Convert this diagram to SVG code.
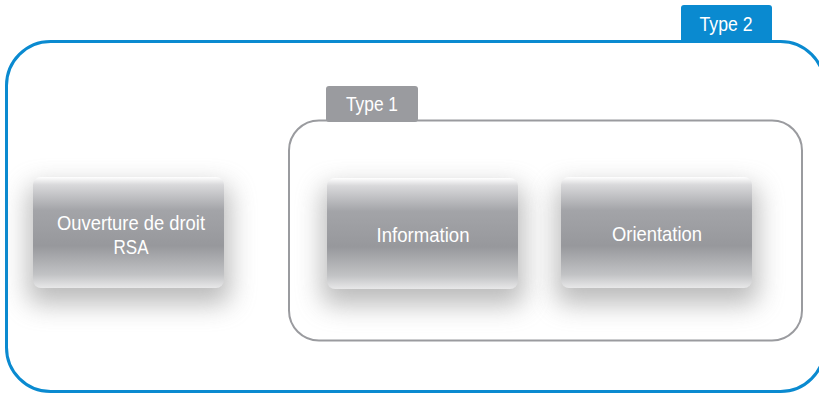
<svg xmlns="http://www.w3.org/2000/svg" width="819" height="395" viewBox="0 0 819 395">
  <defs>
    <linearGradient id="nodeFill" x1="0" y1="0" x2="0" y2="1">
      <stop offset="0" stop-color="#ffffff"/>
      <stop offset="0.07" stop-color="#d9d9db"/>
      <stop offset="0.3" stop-color="#a3a4a8"/>
      <stop offset="0.62" stop-color="#97989c"/>
      <stop offset="0.88" stop-color="#c2c3c5"/>
      <stop offset="1" stop-color="#e8e8e9"/>
    </linearGradient>
    <filter id="soft" x="-40%" y="-40%" width="180%" height="190%">
      <feGaussianBlur stdDeviation="13"/>
    </filter>
  </defs>
  <style>
    .label { font-family: "Liberation Sans", Arial, sans-serif; fill: #ffffff; text-anchor: middle; }
    .node-text { font-size: 21px; }
    .tab-text { font-size: 20px; }
    .node-box { fill: url(#nodeFill); }
    .node-shadow { fill: #8e8e8e; opacity: 0.6; filter: url(#soft); }
  </style>

  <rect width="819" height="395" fill="#ffffff"/>

  <!-- Type 2 frame -->
  <g id="type2">
    <rect x="681" y="5" width="91" height="38" rx="3" fill="#0a8ad0"/>
    <text class="label tab-text" x="726" y="31" textLength="53" lengthAdjust="spacingAndGlyphs">Type 2</text>
    <rect x="6.5" y="41.5" width="818" height="350" rx="44" fill="none" stroke="#0a8ad0" stroke-width="3"/>
  </g>

  <!-- Type 1 frame -->
  <g id="type1">
    <rect x="326" y="86" width="92" height="36" rx="3" fill="#9a9b9f"/>
    <text class="label tab-text" x="372" y="111" textLength="52" lengthAdjust="spacingAndGlyphs">Type 1</text>
    <rect x="289" y="120.5" width="513" height="220" rx="30" fill="none" stroke="#9a9b9f" stroke-width="2"/>
  </g>

  <!-- Nodes -->
  <g id="ouverture">
    <rect class="node-shadow" x="28" y="186" width="202" height="118" rx="10"/>
    <rect class="node-box" x="33" y="177" width="191" height="111" rx="8"/>
    <text class="label node-text" x="131" y="230" textLength="148" lengthAdjust="spacingAndGlyphs">Ouverture de droit</text>
    <text class="label node-text" x="131" y="254" textLength="35" lengthAdjust="spacingAndGlyphs">RSA</text>
  </g>

  <g id="information">
    <rect class="node-shadow" x="322" y="187" width="202" height="118" rx="10"/>
    <rect class="node-box" x="327" y="178" width="191" height="111" rx="8"/>
    <text class="label node-text" x="423" y="242" textLength="93" lengthAdjust="spacingAndGlyphs">Information</text>
  </g>

  <g id="orientation">
    <rect class="node-shadow" x="556" y="186" width="202" height="118" rx="10"/>
    <rect class="node-box" x="561" y="177" width="191" height="111" rx="8"/>
    <text class="label node-text" x="657" y="241" textLength="90" lengthAdjust="spacingAndGlyphs">Orientation</text>
  </g>

  <g id="connectors"></g>
</svg>
